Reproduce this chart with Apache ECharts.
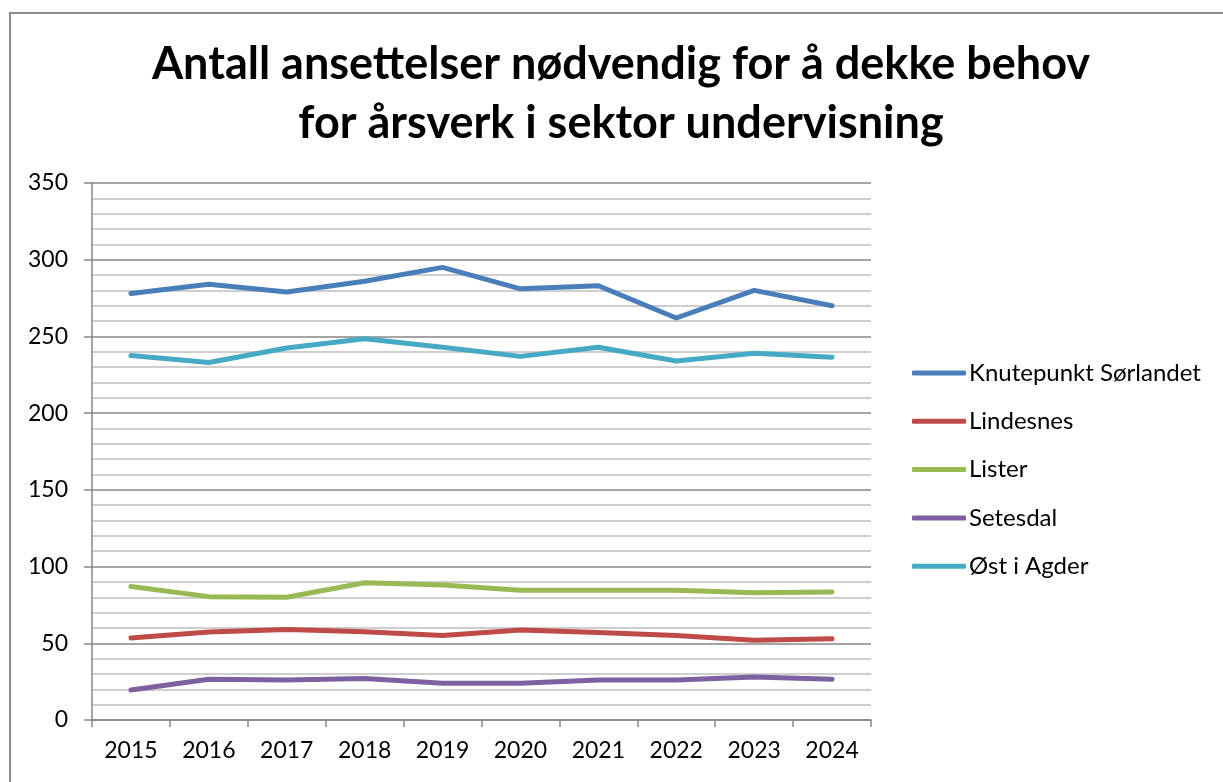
<!DOCTYPE html>
<html>
<head>
<meta charset="utf-8">
<script src="https://cdn.jsdelivr.net/npm/echarts@6/dist/echarts.min.js"></script>
<style>
  html, body { margin: 0; padding: 0; background: #fff; }
  #chart { width: 1223px; height: 782px; position: relative; }
  #frame { position: absolute; left: 9px; top: 12px; width: 1300px; height: 900px;
           border: 2px solid #8c8c8c; box-sizing: border-box; pointer-events: none; }
</style>
</head>
<body>
<div id="chart"></div>
<div id="frame"></div>
<script>
// år på x-aksen
const years = ['2015', '2016', '2017', '2018', '2019', '2020', '2021', '2022', '2023', '2024'];

// serier
const knutepunkt = [278, 284, 279, 286, 295, 281, 283, 262, 280, 270];
const lindesnes = [53.5, 57.4, 59, 57.5, 55, 58.7, 57, 55, 52, 53];
const lister = [87, 80.4, 80, 89.5, 88, 84.5, 84.5, 84.5, 83, 83.5];
const setesdal = [19.5, 26.5, 26, 27, 24, 24, 26, 26, 28, 26.5];
const ostIAgder = [237.5, 233, 242.5, 248.5, 243, 237, 243, 234, 239, 236.5];

const seriesNames = ['Knutepunkt Sørlandet', 'Lindesnes', 'Lister', 'Setesdal', 'Øst i Agder'];
const seriesData = [knutepunkt, lindesnes, lister, setesdal, ostIAgder];
const colors = ['#4a7ebb', '#be4b48', '#98b954', '#7d60a0', '#46aac5'];

const font = 'Lato, "Open Sans", sans-serif';

const chart = echarts.init(document.getElementById('chart'));
chart.setOption({
  animation: false,
  color: colors,
  title: {
    text: 'Antall ansettelser nødvendig for å dekke behov\nfor årsverk i sektor undervisning',
    left: 616,
    top: 30,
    textAlign: 'center',
    textStyle: { fontFamily: font, fontWeight: 'bold', fontSize: 45, lineHeight: 59, color: '#000' }
  },
  legend: {
    orient: 'vertical',
    left: 907,
    top: 356,
    itemWidth: 54,
    itemHeight: 5,
    itemGap: 24.3,
    icon: 'roundRect',
    data: seriesNames,
    textStyle: { fontFamily: font, fontSize: 24, color: '#000', padding: [0, 0, 0, -2] }
  },
  grid: { left: 92, right: 352, top: 183, bottom: 62 },
  xAxis: {
    type: 'category',
    data: years,
    boundaryGap: true,
    axisLine: { lineStyle: { color: '#868686', width: 1.5 } },
    axisTick: { show: true, length: 7, lineStyle: { color: '#868686', width: 1.5 } },
    axisLabel: { fontFamily: font, fontSize: 23, color: '#000', margin: 19 }
  },
  yAxis: {
    type: 'value',
    min: 0,
    max: 350,
    interval: 50,
    axisLine: { show: true, lineStyle: { color: '#868686', width: 1.5 } },
    axisTick: { show: true, length: 8, lineStyle: { color: '#868686', width: 1.5 } },
    axisLabel: { fontFamily: font, fontSize: 23, color: '#000', margin: 24 },
    splitLine: { show: true, lineStyle: { color: '#868686', width: 1.5 } },
    minorTick: { show: false, splitNumber: 5 },
    minorSplitLine: { show: true, lineStyle: { color: '#bfbfbf', width: 1.5 } }
  },
  series: seriesData.map((d, i) => ({
    name: seriesNames[i],
    type: 'line',
    data: d,
    symbol: 'none',
    lineStyle: { width: 5, color: colors[i], cap: 'round', join: 'round' },
    itemStyle: { color: colors[i] }
  }))
});
</script>
</body>
</html>
